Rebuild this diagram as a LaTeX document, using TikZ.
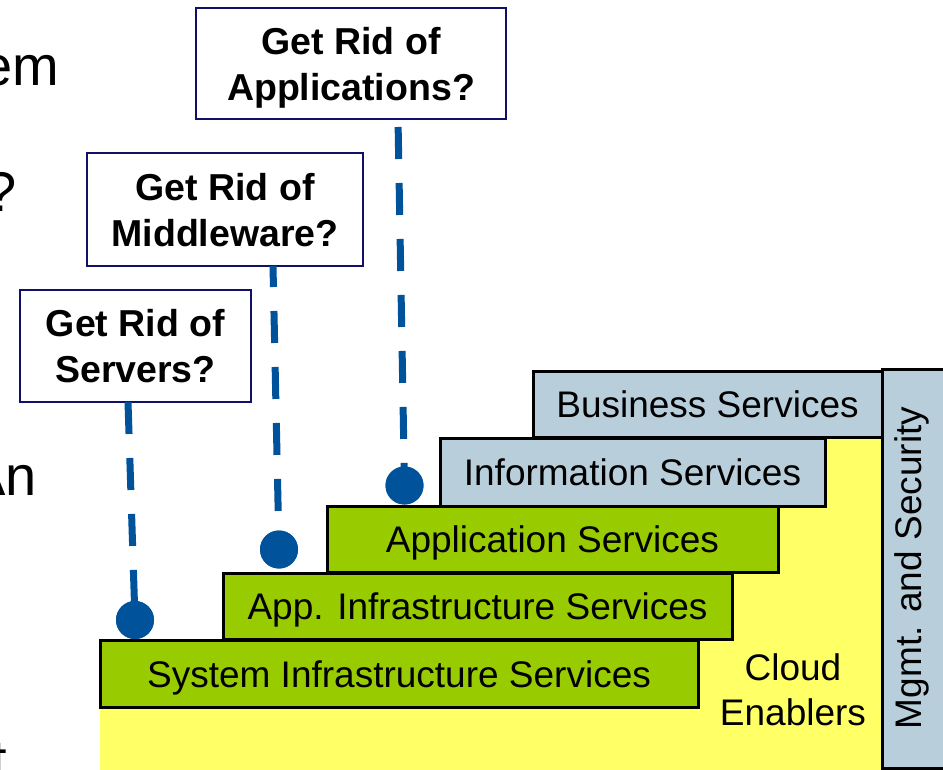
\documentclass[tikz,border=0pt]{standalone}
\usepackage{fontspec}
\setmainfont{Liberation Sans}
\definecolor{yellowbg}{HTML}{FFFF66}
\definecolor{greenbox}{HTML}{99CC00}
\definecolor{steelbox}{HTML}{B9CEDB}
\definecolor{dotblue}{HTML}{00539B}
\definecolor{navyline}{HTML}{10106A}
\tikzset{
  layer/.style={draw=black, line width=3pt, inner sep=0pt, text height=27pt, text depth=0pt,
    font=\fontsize{37}{44}\selectfont, text=black},
  greenlayer/.style={layer, fill=greenbox},
  steellayer/.style={layer, fill=steelbox},
  question/.style={draw=navyline, line width=2.5pt, fill=white, inner sep=0pt, align=center,
    text depth=0pt, font=\fontsize{37.5}{46}\selectfont\bfseries},
  dashline/.style={draw=dotblue, line width=7pt, dash pattern=on 32pt off 24pt},
  blob/.style={circle, fill=dotblue, inner sep=0pt, minimum size=38pt},
  fragment/.style={inner sep=0pt, anchor=base east, font=\fontsize{56}{64}\selectfont}
}
\begin{document}
\begin{tikzpicture}[x=1pt, y=-1pt]
\useasboundingbox (0,0) rectangle (943,770);
% slide text fragments at the left edge
\node[fragment] (fem) at (59,86) {em};
\node[fragment] (fq) at (17,212) {?};
\node[fragment] (fan) at (37,495) {An};
\node[fragment] (ft) at (7,779) {t};
% yellow cloud enablers area
\fill[yellowbg] (100,770) -- (100,650) -- (223,650) -- (223,580) -- (327,580) -- (327,515)
  -- (440,515) -- (440,450) -- (533,450) -- (533,400) -- (883,400) -- (883,770) -- cycle;
% question boxes
\node[question, minimum width=310pt, minimum height=111pt] (qa) at (351,63.5) {Get Rid of\\Applications?};
\node[question, minimum width=276pt, minimum height=113pt] (qm) at (225,209.5) {Get Rid of\\Middleware?};
\node[question, minimum width=231pt, minimum height=112pt] (qs) at (135.5,346) {Get Rid of\\Servers?};
% dots
\node[blob] (d1) at (135,620) {};
\node[blob] (d2) at (279,549.5) {};
\node[blob] (d3) at (404.5,485.5) {};
% connector start points on box bottoms
\coordinate (l1) at (128,402);
\coordinate (l2) at (273,266);
\coordinate (l3) at (398,119);
\draw[dashline] (l1) -- (d1.center);
\draw[dashline, dash phase=11pt] (l2) -- (d2.center);
\draw[dashline, dash phase=48pt] (l3) -- (d3.center);
% dots drawn again above the lines
\node[blob] at (d1) {};
\node[blob] at (d2) {};
\node[blob] at (d3) {};
% layers
\node[steellayer, minimum width=349pt, minimum height=66pt] (bus) at (707.5,404) {Business Services};
\node[steellayer, minimum width=385pt, minimum height=68pt] (info) at (632.5,472) {Information Services};
\node[greenlayer, minimum width=451pt, minimum height=66pt] (app) at (552.5,539) {Application Services};
\node[greenlayer, minimum width=509pt, minimum height=66pt] (appinf) at (477.5,606) {App. Infrastructure Services};
\node[greenlayer, minimum width=598pt, minimum height=67pt] (sys) at (399,673.5) {System Infrastructure Services};
\node[steellayer, minimum width=118pt, minimum height=399pt] (mgmt) at (941,568.5) {};
\node[inner sep=0pt, rotate=90, font=\fontsize{37}{44}\selectfont] (mgmtlabel) at (912,568) {Mgmt. and Security};
\node[inner sep=0pt, align=center, font=\fontsize{37}{45}\selectfont] (cloud) at (793,690) {Cloud\\Enablers};
\end{tikzpicture}
\end{document}
